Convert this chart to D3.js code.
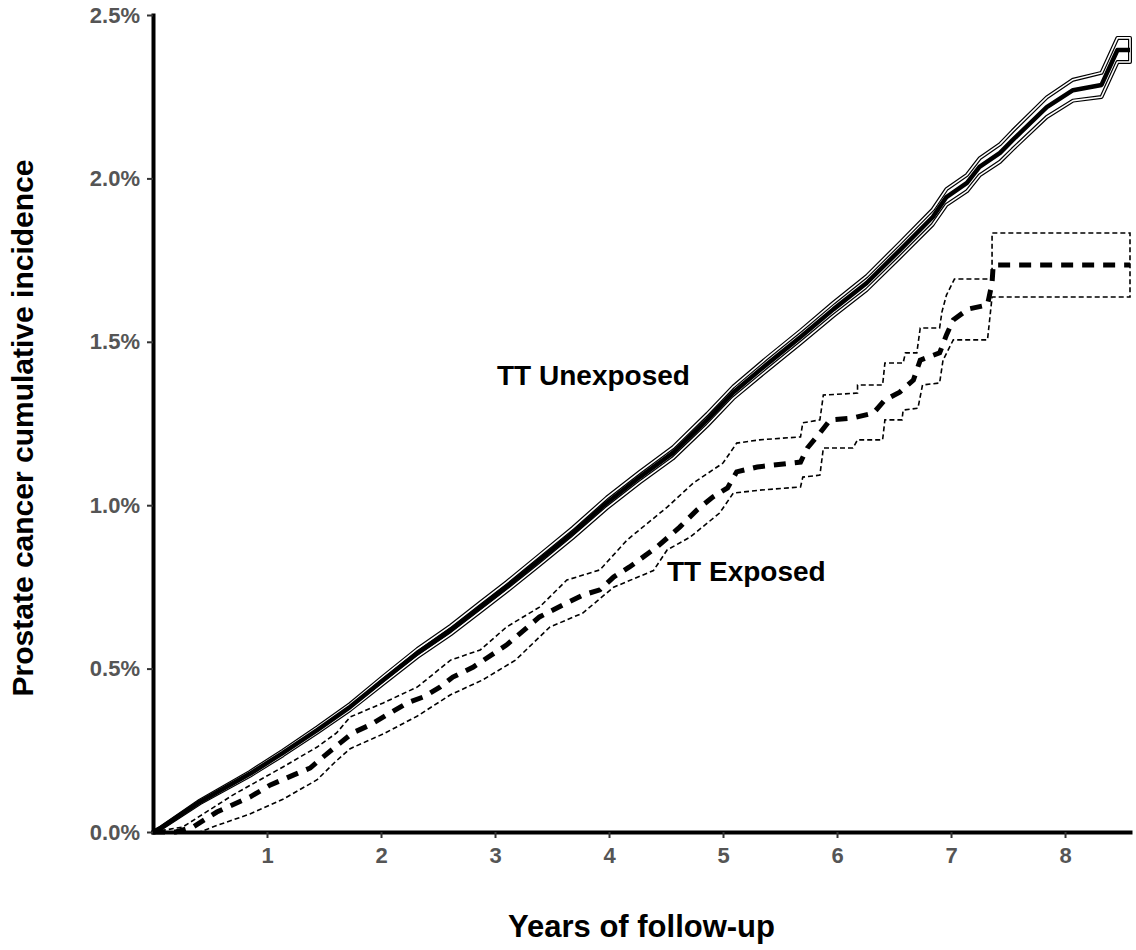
<!DOCTYPE html>
<html>
<head>
<meta charset="utf-8">
<script src="https://cdn.jsdelivr.net/npm/d3@7"></script>
<style>
  body { margin: 0; background: #fff; }
  svg { display: block; font-family: "Liberation Sans", Arial, sans-serif; }
</style>
</head>
<body>
<svg width="1136" height="950"></svg>
<script>
'use strict';

// years of follow-up, cumulative incidence in %
var xTicks = [1, 2, 3, 4, 5, 6, 7, 8];
var yTicks = [0, 0.5, 1.0, 1.5, 2.0, 2.5];

var unexpTime = [0, 0.06, 0.41, 0.85, 1.14, 1.44, 1.73, 2.02, 2.32, 2.61, 2.87, 3.10, 3.39, 3.68, 3.98, 4.27, 4.56, 4.86, 5.09, 5.38, 5.68, 5.97, 6.26, 6.55, 6.84, 6.96, 7.14, 7.25, 7.43, 7.54, 7.84, 8.07, 8.32, 8.46, 8.57];
var unexpEst = [0, 0.010, 0.092, 0.178, 0.242, 0.312, 0.383, 0.465, 0.548, 0.618, 0.688, 0.750, 0.832, 0.915, 1.007, 1.086, 1.160, 1.261, 1.345, 1.430, 1.515, 1.600, 1.680, 1.780, 1.882, 1.943, 1.986, 2.035, 2.078, 2.117, 2.218, 2.270, 2.286, 2.393, 2.393];
var unexpLo = [0, 0.008, 0.088, 0.172, 0.235, 0.304, 0.374, 0.454, 0.536, 0.605, 0.674, 0.736, 0.817, 0.900, 0.991, 1.070, 1.143, 1.243, 1.327, 1.411, 1.496, 1.580, 1.659, 1.758, 1.859, 1.919, 1.961, 2.009, 2.051, 2.089, 2.188, 2.238, 2.249, 2.356, 2.356];
var unexpHi = [0, 0.012, 0.096, 0.184, 0.249, 0.320, 0.392, 0.476, 0.560, 0.631, 0.702, 0.764, 0.847, 0.930, 1.023, 1.102, 1.177, 1.279, 1.363, 1.449, 1.534, 1.620, 1.701, 1.802, 1.905, 1.967, 2.011, 2.061, 2.105, 2.145, 2.248, 2.302, 2.323, 2.430, 2.430];

var expTime = [0, 0.20, 0.35, 0.56, 0.85, 1.03, 1.23, 1.38, 1.49, 1.64, 1.75, 1.90, 2.05, 2.23, 2.37, 2.52, 2.63, 2.81, 3.10, 3.39, 3.63, 3.77, 3.92, 4.04, 4.18, 4.42, 4.62, 4.77, 4.91, 5.04, 5.12, 5.30, 5.68, 5.74, 5.85, 5.94, 6.14, 6.32, 6.42, 6.55, 6.67, 6.73, 6.90, 6.96, 7.02, 7.15, 7.32, 7.36, 7.37, 8.57];
var expEst = [0, 0, 0.015, 0.061, 0.107, 0.144, 0.174, 0.196, 0.229, 0.272, 0.303, 0.327, 0.358, 0.395, 0.413, 0.444, 0.474, 0.505, 0.572, 0.658, 0.701, 0.725, 0.741, 0.780, 0.811, 0.872, 0.933, 0.985, 1.025, 1.053, 1.102, 1.117, 1.132, 1.175, 1.221, 1.261, 1.267, 1.282, 1.322, 1.346, 1.383, 1.444, 1.466, 1.521, 1.567, 1.600, 1.613, 1.680, 1.735, 1.735];

var expHiTime = [0, 0.26, 0.70, 1.14, 1.44, 1.61, 1.73, 2.02, 2.32, 2.61, 2.87, 3.10, 3.39, 3.63, 3.92, 4.16, 4.51, 4.74, 5.00, 5.12, 5.32, 5.68, 5.70, 5.85, 5.88, 6.18, 6.18, 6.40, 6.42, 6.58, 6.60, 6.70, 6.73, 6.90, 6.92, 6.96, 7.03, 7.36, 7.36, 8.57];
var expHi = [0, 0.015, 0.113, 0.199, 0.260, 0.303, 0.352, 0.395, 0.444, 0.526, 0.557, 0.627, 0.688, 0.771, 0.802, 0.894, 0.994, 1.068, 1.129, 1.190, 1.200, 1.209, 1.252, 1.261, 1.337, 1.343, 1.368, 1.368, 1.435, 1.435, 1.466, 1.466, 1.542, 1.542, 1.591, 1.643, 1.692, 1.692, 1.833, 1.833];

var expLoTime = [0, 0.41, 0.56, 0.85, 1.14, 1.44, 1.60, 1.73, 2.02, 2.32, 2.61, 2.89, 3.18, 3.48, 3.77, 4.04, 4.39, 4.51, 4.71, 4.97, 5.09, 5.32, 5.68, 5.70, 5.85, 5.88, 6.14, 6.18, 6.40, 6.42, 6.57, 6.58, 6.71, 6.75, 6.90, 6.93, 7.02, 7.32, 7.36, 8.57];
var expLo = [0, 0, 0.020, 0.055, 0.100, 0.160, 0.215, 0.255, 0.300, 0.355, 0.420, 0.465, 0.526, 0.627, 0.670, 0.749, 0.800, 0.863, 0.902, 0.976, 1.037, 1.046, 1.056, 1.086, 1.092, 1.175, 1.175, 1.200, 1.200, 1.261, 1.261, 1.291, 1.297, 1.368, 1.374, 1.444, 1.506, 1.506, 1.637, 1.637];

var svg = d3.select("svg");

var x = d3.scaleLinear().domain([0, 8.57]).range([153, 1130]),
    y = d3.scaleLinear().domain([0, 2.5]).range([832, 15]);

function zipPts(ts, vs) {
  return ts.map(function (t, i) { return [t, vs[i]]; });
}

var line = d3.line()
  .x(function (d) { return x(d[0]); })
  .y(function (d) { return y(d[1]); });

// CI drawn as an open ribbon outline: upper forward, lower back
function ribbon(hiPts, loPts) {
  return line(hiPts.concat(loPts.slice().reverse())) + "Z";
}

var plot = svg.append("g");

var uHi = zipPts(unexpTime, unexpHi), uLo = zipPts(unexpTime, unexpLo);
plot.append("path")
  .attr("d", ribbon(uHi, uLo))
  .attr("fill", "none")
  .attr("stroke", "#000")
  .attr("stroke-width", 4)
  .attr("stroke-linejoin", "round");
plot.append("path")
  .attr("d", ribbon(uHi, uLo))
  .attr("fill", "none")
  .attr("stroke", "#fff")
  .attr("stroke-width", 1.6)
  .attr("stroke-linejoin", "round");
plot.append("path")
  .datum(zipPts(unexpTime, unexpEst))
  .attr("d", line)
  .attr("fill", "none")
  .attr("stroke", "#000")
  .attr("stroke-width", 4.5)
  .attr("stroke-linejoin", "round");

plot.append("path")
  .attr("d", ribbon(zipPts(expHiTime, expHi), zipPts(expLoTime, expLo)))
  .attr("fill", "none")
  .attr("stroke", "#000")
  .attr("stroke-width", 1.6)
  .attr("stroke-dasharray", "5,3");
plot.append("path")
  .datum(zipPts(expTime, expEst))
  .attr("d", line)
  .attr("fill", "none")
  .attr("stroke", "#000")
  .attr("stroke-width", 5)
  .attr("stroke-dasharray", "12,9");

// axes
var xAxis = d3.axisBottom(x).tickValues(xTicks).tickFormat(d3.format("d"))
  .tickSize(6).tickSizeOuter(0).tickPadding(9);
var yAxis = d3.axisLeft(y).tickValues(yTicks).tickFormat(function (d) { return d3.format(".1f")(d) + "%"; })
  .tickSize(6).tickSizeOuter(0).tickPadding(7);

var gx = svg.append("g")
  .attr("transform", "translate(0,832)")
  .call(xAxis);
var gy = svg.append("g")
  .attr("transform", "translate(153,0)")
  .call(yAxis);

[gx, gy].forEach(function (g) {
  g.select(".domain").attr("stroke", "#000").attr("stroke-width", 4).attr("stroke-linecap", "square");
  g.selectAll(".tick line").attr("stroke", "#333").attr("stroke-width", 2);
  g.selectAll(".tick text")
    .attr("fill", "#555")
    .style("font-size", "22px")
    .style("font-weight", "bold")
    .style("font-family", "'Liberation Sans', Arial, sans-serif");
});

svg.append("text")
  .attr("x", 641.5)
  .attr("y", 937)
  .attr("text-anchor", "middle")
  .style("font-size", "31px")
  .style("font-weight", "bold")
  .text("Years of follow-up");

svg.append("text")
  .attr("transform", "translate(33,428) rotate(-90)")
  .attr("text-anchor", "middle")
  .style("font-size", "30px")
  .style("font-weight", "bold")
  .text("Prostate cancer cumulative incidence");

svg.append("text")
  .attr("x", 497)
  .attr("y", 385)
  .style("font-size", "28px")
  .style("font-weight", "bold")
  .text("TT Unexposed");

svg.append("text")
  .attr("x", 667)
  .attr("y", 581)
  .style("font-size", "28px")
  .style("font-weight", "bold")
  .text("TT Exposed");
</script>
</body>
</html>
